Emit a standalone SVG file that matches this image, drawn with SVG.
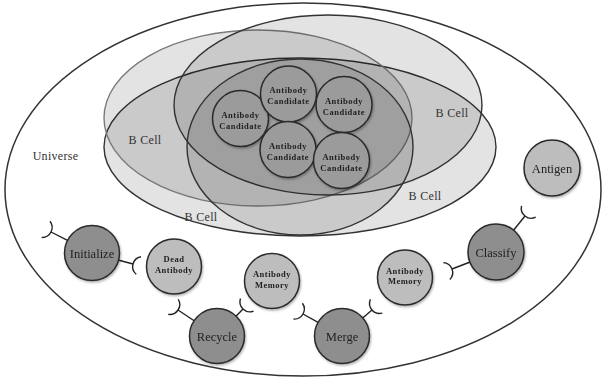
<svg xmlns="http://www.w3.org/2000/svg" width="605" height="381" viewBox="0 0 605 381">
<style>
  .bg{fill:#ffffff}
  .uni{fill:none;stroke:#333;stroke-width:1.5}
  .cell{fill:#000;fill-opacity:0.11;stroke:#333;stroke-width:1.4}
  .cell.light{stroke:#7a7a7a}
  .lbl{font-family:"Liberation Serif",serif;font-size:12px;fill:#333;text-anchor:middle;letter-spacing:0.3px}
  .cand circle{fill:#9b9b9b;stroke:#2a2a2a;stroke-width:1.5}
  .op circle{fill:#8e8e8e;stroke:#2a2a2a;stroke-width:1.5}
  .data circle{fill:#bdbdbd;stroke:#2a2a2a;stroke-width:1.5}
  .small{font-family:"Liberation Serif",serif;font-weight:bold;font-size:8.5px;fill:#222;text-anchor:middle;letter-spacing:0.5px}
  .big{font-family:"Liberation Serif",serif;font-size:12.5px;fill:#222;text-anchor:middle}
  .conn path{fill:none;stroke:#222;stroke-width:1.4}
</style>
<defs>
  <filter id="sh" x="-20%" y="-20%" width="150%" height="150%">
    <feDropShadow dx="1" dy="1.5" stdDeviation="1.2" flood-color="#000" flood-opacity="0.3"/>
  </filter>
</defs>
<rect class="bg" x="0" y="0" width="605" height="381"/>
<g id="universe">
  <ellipse class="uni" cx="303" cy="189.5" rx="298" ry="186.5"/>
  <text class="lbl" x="55.5" y="160">Universe</text>
</g>
<g id="bcell-big">
  <ellipse class="cell" cx="300" cy="147" rx="196" ry="89"/>
  <text class="lbl" x="425" y="200">B Cell</text>
</g>
<g id="bcell-left">
  <ellipse class="cell light" cx="258" cy="118" rx="154" ry="88"/>
  <text class="lbl" x="145" y="144">B Cell</text>
</g>
<g id="bcell-top">
  <ellipse class="cell" cx="328" cy="105" rx="154" ry="90"/>
  <text class="lbl" x="452" y="117">B Cell</text>
</g>
<g id="bcell-inner">
  <ellipse class="cell" cx="300" cy="147" rx="113" ry="88"/>
  <text class="lbl" x="201" y="221">B Cell</text>
</g>
<g id="candidate-1" class="cand" filter="url(#sh)">
  <circle cx="240.5" cy="118.5" r="28"/>
  <text class="small" x="240.5" y="117.5">Antibody</text>
  <text class="small" x="240.5" y="128.5">Candidate</text>
</g>
<g id="candidate-2" class="cand" filter="url(#sh)">
  <circle cx="288.5" cy="94" r="28"/>
  <text class="small" x="288.5" y="93">Antibody</text>
  <text class="small" x="288.5" y="104">Candidate</text>
</g>
<g id="candidate-3" class="cand" filter="url(#sh)">
  <circle cx="344" cy="104.5" r="28"/>
  <text class="small" x="344" y="103.5">Antibody</text>
  <text class="small" x="344" y="114.5">Candidate</text>
</g>
<g id="candidate-4" class="cand" filter="url(#sh)">
  <circle cx="288" cy="149.5" r="28"/>
  <text class="small" x="288" y="148.5">Antibody</text>
  <text class="small" x="288" y="159.5">Candidate</text>
</g>
<g id="candidate-5" class="cand" filter="url(#sh)">
  <circle cx="341.5" cy="160.5" r="28"/>
  <text class="small" x="341.5" y="159.5">Antibody</text>
  <text class="small" x="341.5" y="170.5">Candidate</text>
</g>
<g id="connectors" class="conn">
  <path d="M68.0,240.7 L51,232"/>
  <path d="M49.99,221.30 A10,10 0 0,1 41.73,237.43"/>
  <path d="M118.08,260.0 L133,264"/>
  <path d="M136.23,274.25 A10,10 0 0,1 140.93,256.74"/>
  <path d="M194.53,321.02 L178,310"/>
  <path d="M178.22,299.25 A10,10 0 0,1 168.17,314.34"/>
  <path d="M235.73,316.55 L243,309"/>
  <path d="M253.54,311.13 A10,10 0 0,1 240.48,298.56"/>
  <path d="M318.49,322.73 L303,314"/>
  <path d="M302.42,303.27 A10,10 0 0,1 293.52,319.06"/>
  <path d="M362.40,318.32 L372,310"/>
  <path d="M382.30,313.07 A10,10 0 0,1 370.43,299.37"/>
  <path d="M512.94,230.98 L525,216"/>
  <path d="M535.68,217.19 A10,10 0 0,1 521.56,205.82"/>
  <path d="M470.81,261.73 L452,269"/>
  <path d="M443.35,262.62 A10,10 0 0,1 449.88,279.53"/>
</g>
<g id="initialize" class="op" filter="url(#sh)">
  <circle cx="92" cy="253" r="27.5"/>
  <text class="big" x="92" y="257.5">Initialize</text>
</g>
<g id="dead-antibody" class="data" filter="url(#sh)">
  <circle cx="174" cy="266.5" r="27.5"/>
  <text class="small" x="174" y="261.5">Dead</text>
  <text class="small" x="174" y="273">Antibody</text>
</g>
<g id="antibody-memory-1" class="data" filter="url(#sh)">
  <circle cx="272" cy="281" r="27.5"/>
  <text class="small" x="272" y="276.5">Antibody</text>
  <text class="small" x="272" y="287.5">Memory</text>
</g>
<g id="recycle" class="op" filter="url(#sh)">
  <circle cx="217" cy="336" r="27.5"/>
  <text class="big" x="217" y="340.5">Recycle</text>
</g>
<g id="merge" class="op" filter="url(#sh)">
  <circle cx="342" cy="336" r="27.5"/>
  <text class="big" x="342" y="340.5">Merge</text>
</g>
<g id="antibody-memory-2" class="data" filter="url(#sh)">
  <circle cx="405" cy="277.5" r="27.5"/>
  <text class="small" x="405" y="273.5">Antibody</text>
  <text class="small" x="405" y="284">Memory</text>
</g>
<g id="classify" class="op" filter="url(#sh)">
  <circle cx="496" cy="252" r="28"/>
  <text class="big" x="496" y="256.5">Classify</text>
</g>
<g id="antigen" class="data" filter="url(#sh)">
  <circle cx="552" cy="168" r="28"/>
  <text class="big" x="552" y="172.5">Antigen</text>
</g>
</svg>
